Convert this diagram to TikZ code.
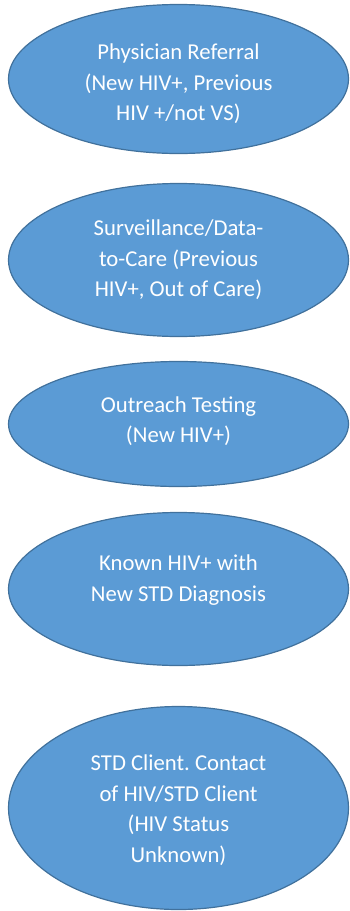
\documentclass[tikz,border=0pt]{standalone}
\usepackage{fontspec}
\setmainfont{Carlito}
\usetikzlibrary{shapes.geometric}
\definecolor{ofill}{HTML}{5B9BD5}
\definecolor{oline}{HTML}{41719C}
\tikzset{
  oval/.style={ellipse, draw=oline, line width=1.2pt, fill=ofill,
    minimum width=340pt, inner sep=0pt},
  ovaltext/.style={text=white, inner sep=0pt, align=center,
    font=\frenchspacing\fontsize{22.7pt}{30.5pt}\selectfont}
}
\begin{document}
\begin{tikzpicture}[x=1pt,y=-1pt]
\useasboundingbox (0,0) rectangle (350,911);
\clip (0,0) rectangle (350,911);
\node[oval, minimum height=149pt] (n1) at (178.5,79) {};
\node[ovaltext, yshift=-5pt] (t1) at (n1.center)
  {Physician Referral\\(New HIV+, Previous\\HIV +/not VS)};
\node[oval, minimum height=153pt] (n2) at (178.5,260) {};
\node[ovaltext] (t2) at (n2.center)
  {Surveillance/Data-\\to-Care (Previous\\HIV+, Out of Care)};
\node[oval, minimum height=125pt] (n3) at (178.5,424) {};
\node[ovaltext, yshift=3pt] (t3) at (n3.center)
  {Outreach Testing\\(New HIV+)};
\node[oval, minimum height=153pt] (n4) at (178.5,589) {};
\node[ovaltext, yshift=9pt] (t4) at (n4.center)
  {Known HIV+ with\\New STD Diagnosis};
\node[oval, minimum height=203pt] (n5) at (178.5,808) {};
\node[ovaltext, yshift=-2pt] (t5) at (n5.center)
  {STD Client. Contact\\of HIV/STD Client\\(HIV Status\\Unknown)};
\end{tikzpicture}
\end{document}
